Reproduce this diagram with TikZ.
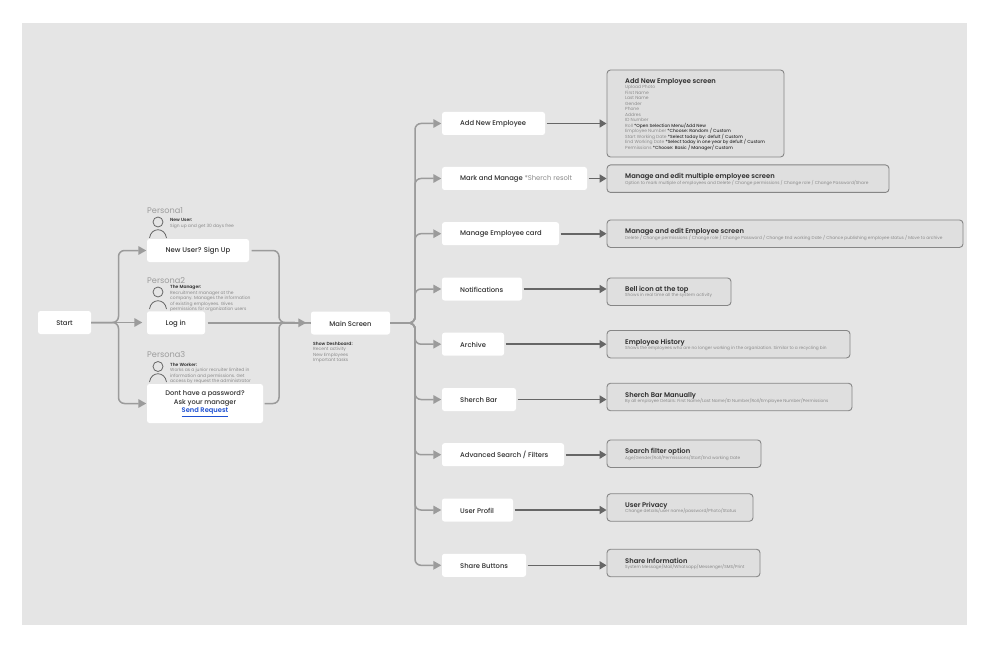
\documentclass[tikz,border=0pt]{standalone}
\usepackage{fontspec}
\setmainfont{Poppins}
\newfontfamily\medf{Poppins Medium}
\newfontfamily\semif{Poppins SemiBold}
\usetikzlibrary{arrows.meta,calc}
\normallineskiplimit=-20pt
\lineskiplimit=-20pt
\definecolor{bgc}{HTML}{E5E5E5}
\definecolor{boxc}{HTML}{DFDFDF}
\definecolor{conc}{HTML}{9B9B9B}
\definecolor{dconc}{HTML}{666666}
\definecolor{edgec}{HTML}{868686}
\definecolor{txtd}{HTML}{2E2E2E}
\definecolor{txtl}{HTML}{8A8A8A}
\definecolor{linkc}{HTML}{1E50D2}
\tikzset{
  x=1pt,y=-1pt,
  wbox/.style={fill=white,draw=none,rounded corners=2.5pt,inner sep=0pt},
  gbox/.style={fill=boxc,draw=edgec,line width=0.9pt,rounded corners=3.5pt,inner sep=0pt},
  lab/.style={anchor=west,inner sep=0pt,yshift=-0.5pt,text=txtd,font=\medf\fontsize{6.8}{8}\selectfont},
  title/.style={anchor=west,inner sep=0pt,yshift=-1pt,text=txtd,font=\semif\fontsize{6.75}{8}\selectfont},
  sub/.style={anchor=west,inner sep=0pt,yshift=-0.4pt,text=txtl,font=\fontsize{4.3}{5}\selectfont},
  list/.style={anchor=north west,inner sep=0pt,align=left,text=txtl,font=\fontsize{4.45}{5.5}\selectfont},
  phead/.style={circle,draw=dconc,line width=0.8pt,minimum size=10pt,inner sep=0pt},
  pname/.style={anchor=west,inner sep=0pt,yshift=-0.5pt,text=txtl!85,font=\fontsize{8.2}{9}\selectfont},
  pshoulder/.style={draw=dconc,line width=0.8pt},
  conn/.style={draw=conc,line width=1.5pt,rounded corners=6pt},
  conna/.style={conn,-{Triangle[length=8pt,width=8.5pt,fill=conc]}},
  dconn/.style={draw=dconc,line width=1.6pt,-{Triangle[length=7pt,width=8pt,fill=dconc]},shorten <=1.5pt},
}
\begin{document}
\begin{tikzpicture}
\useasboundingbox (0,0) rectangle (990,647);
\fill[white] (0,0) rectangle (990,647);
\fill[bgc] (22,23) rectangle (967,625);

% personas
\node[pname] (pn1) at (147,210) {Persona1};
\node[pname] (pn2) at (147,280) {Persona2};
\node[pname] (pn3) at (147,354) {Persona3};
\node[phead] (ph1) at (158,222) {};
\node[phead] (ph2) at (158,292) {};
\node[phead] (ph3) at (158,366.5) {};
\draw[pshoulder] (149.5,238) .. controls (151,227) and (165,227) .. (166.5,238);
\draw[pshoulder] (149.5,309) .. controls (151,298) and (165,298) .. (166.5,309);
\draw[pshoulder] (149.5,382) .. controls (151,371) and (165,371) .. (166.5,382);
\node[list] (pt1) at (170,218.4) {{\semif\color{txtd}New User:}\\Sign up and get 30 days free};
\node[list] (pt2) at (170,285.1) {{\semif\color{txtd}The Manager:}\\Recruitment manager at the\\company. Manages the information\\of existing employees. Gives\\permissions for organization users};
\node[list] (pt3) at (170,362.8) {{\semif\color{txtd}The Worker:}\\Works as a junior recruiter limited in\\information and permissions. Get\\access by request the administrator};

% left nodes
\node[wbox,minimum width=53pt,minimum height=23pt] (start) at (64.5,322.5) {};
\node[lab,anchor=center] at (start) {Start};
\node[wbox,minimum width=102pt,minimum height=23pt] (signup) at (198,250.5) {};
\node[lab] at (165.5,250.5) {\fontsize{6.9}{8}\selectfont New User? Sign Up};
\node[wbox,minimum width=58pt,minimum height=23pt] (login) at (176,322.8) {};
\node[lab] at (165.5,322.8) {\fontsize{6.9}{8}\selectfont Log in};
\node[wbox,minimum width=116pt,minimum height=39pt] (nopass) at (205,403.5) {};
\node[anchor=center,align=center,inner sep=0pt,text=txtd,font=\medf\fontsize{6.7}{8.5}\selectfont] (nopasst) at (205,403.8) {Dont have a password?\\Ask your manager\\{\semif\color{linkc}\underline{Send Request}}};
\node[wbox,minimum width=79pt,minimum height=23pt] (main) at (350.5,323) {};
\node[lab,anchor=center] at (main) {Main Screen};
\node[list] (dash) at (313,341.6) {{\semif\color{txtd}Show Deshboard:}\\Recent activity\\New Employees\\Important tasks};

% middle nodes
\node[wbox,minimum width=103pt,minimum height=23pt] (m1) at (493.5,123.5) {};
\node[lab] at (460,123.5) {Add New Employee};
\node[wbox,minimum width=145pt,minimum height=23pt] (m2) at (514.5,178.5) {};
\node[lab] at (460,178.5) {Mark and Manage \textcolor{txtl}{\normalfont *Sherch resolt}};
\node[wbox,minimum width=117pt,minimum height=23pt] (m3) at (500.5,233.7) {};
\node[lab] at (460,233.7) {Manage Employee card};
\node[wbox,minimum width=80pt,minimum height=23pt] (m4) at (482,289) {};
\node[lab] at (460,289) {Notifications};
\node[wbox,minimum width=62pt,minimum height=23pt] (m5) at (473,344.2) {};
\node[lab] at (460,344.2) {Archive};
\node[wbox,minimum width=74pt,minimum height=23pt] (m6) at (479,399.5) {};
\node[lab] at (460,399.5) {Sherch Bar};
\node[wbox,minimum width=122pt,minimum height=23pt] (m7) at (503,454.7) {};
\node[lab] at (460,454.7) {Advanced Search / Filters};
\node[wbox,minimum width=71pt,minimum height=23pt] (m8) at (477.5,510) {};
\node[lab] at (460,510) {User Profil};
\node[wbox,minimum width=84pt,minimum height=23pt] (m9) at (484,565.3) {};
\node[lab] at (460,565.3) {Share Buttons};

% right boxes
\node[gbox,minimum width=177pt,minimum height=87pt] (r1) at (695.5,113.5) {};
\node[title] at (625,81) {Add New Employee screen};
\node[list] at (625,85.3) {Upload Photo\\First Name\\Last Name\\Gender\\Phone\\Addres\\ID Number\\Roll {\medf\color{txtd}*Open Selection Menu/Add New}\\Employee Number {\medf\color{txtd}*Choose: Random / Custom}\\Start Working Date {\medf\color{txtd}*Select today by: defult / Custom}\\End Working Date {\medf\color{txtd}*Select today in one year by defult / Custom}\\Permissions {\medf\color{txtd}*Choose: Basic / Manager/ Custom}};
\node[gbox,minimum width=282pt,minimum height=27.5pt] (r2) at (748,178.7) {};
\node[title] at (625,176) {Manage and edit multiple employee screen};
\node[sub] at (625,182.4) {Option to mark multiple of employees and Delete / Change permissions / Change role / Change Password/Share};
\node[gbox,minimum width=356pt,minimum height=27.5pt] (r3) at (785,233.7) {};
\node[title] at (625,231) {Manage and edit Employee screen};
\node[sub] at (625,237.3) {Delete / Change permissions / Change role / Change Password / Change End working Date / Chance publishing employee status / Move to archive};
\node[gbox,minimum width=124pt,minimum height=27.5pt] (r4) at (669,291.7) {};
\node[title] at (625,289) {Bell icon at the top};
\node[sub] at (625,295.4) {Shows in real time all the system activity};
\node[gbox,minimum width=243pt,minimum height=27.5pt] (r5) at (728.5,344.2) {};
\node[title] at (625,341.7) {Employee History};
\node[sub] at (625,348) {Shows the employees who are no longer working in the organization. Similar to a recycling bin};
\node[gbox,minimum width=245pt,minimum height=27.5pt] (r6) at (729.5,397) {};
\node[title] at (625,394.7) {Sherch Bar Manually};
\node[sub] at (625,401) {By all employee Details: First Name/Last Name/ID Number/Roll/Employee Number/Permissions};
\node[gbox,minimum width=154pt,minimum height=27.5pt] (r7) at (684,453.7) {};
\node[title] at (625,451) {Search filter option};
\node[sub] at (625,457.2) {Age/Gender/Roll/Permissions/Start/End working Date};
\node[gbox,minimum width=146pt,minimum height=27.5pt] (r8) at (680,507.5) {};
\node[title] at (625,505) {User Privacy};
\node[sub] at (625,511) {Change details/user name/password/Photo/Status};
\node[gbox,minimum width=153pt,minimum height=27.5pt] (r9) at (683.5,563) {};
\node[title] at (625,560) {Share Information};
\node[sub] at (625,566.5) {System Message/Mail/Whatsapp/Messenger/SMS/Print};

% junctions
\coordinate (jl) at (118.5,322.5);
\coordinate (jr) at (279,322.5);
\coordinate (jm) at (415,323);

% left connectors
\draw[conna,shorten >=0.5pt] (start.east) -- (jl) -- (jl |- signup.west) -- (signup.west);
\draw[conna,shorten >=4.5pt] (start.east) -- (login.west |- start.east);
\draw[conna,shorten >=0.5pt] (start.east) -- (jl) -- (jl |- nopass.west) -- (nopass.west);
\draw[conn,shorten <=2.5pt] (signup.east) -- (jr |- signup.east) -- (jr) -- (main.west);
\draw[conna,shorten <=2.5pt,shorten >=4.5pt] (login.east) -- (main.west |- login.east);
\draw[conn,shorten <=1.5pt] (nopass.east) -- (jr |- nopass.east) -- (jr) -- (main.west);

% main to middle
\foreach \m in {m1,m2,m3,m4,m5,m6,m7,m8,m9}{
  \draw[conna,shorten >=0.5pt] (main.east) -- (jm) -- (jm |- \m.west) -- (\m.west);
}
% middle to right
\foreach \m/\r in {m1/r1,m2/r2,m3/r3,m4/r4,m5/r5,m6/r6,m7/r7,m8/r8,m9/r9}{
  \draw[dconn] (\m.east) -- (\r.west |- \m.east);
}
\end{tikzpicture}
\end{document}
